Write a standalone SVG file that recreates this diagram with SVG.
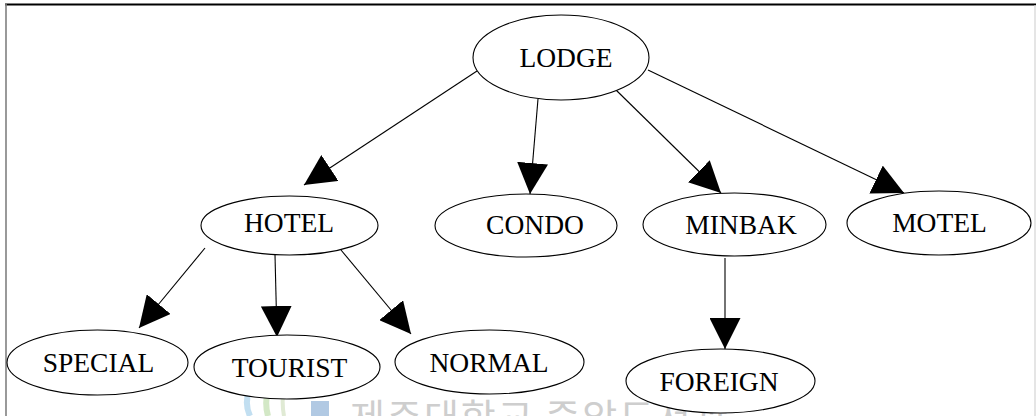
<svg xmlns="http://www.w3.org/2000/svg" width="1036" height="416" viewBox="0 0 1036 416">
<style>
.node ellipse{fill:#fff;stroke:#000;stroke-width:1.1}
.node text{font-family:"Liberation Serif","Times New Roman",serif;font-size:27.5px;fill:#000;text-anchor:middle}
.edge{stroke:#000;stroke-width:1.1;fill:none;marker-end:url(#ah)}
.wm{font-family:"Noto Sans CJK KR","Noto Sans CJK SC",sans-serif;font-size:38px;fill:#c9c9c9}
</style>
<defs>
<marker id="ah" viewBox="0 0 10 10" refX="10" refY="5" markerUnits="userSpaceOnUse" markerWidth="31" markerHeight="31" orient="auto">
<path d="M0,0 L10,5 L0,10 z" fill="#000"/>
</marker>
</defs>
<rect x="0" y="0" width="1036" height="416" fill="#fff"/>
<g id="frame">
<line x1="5" y1="4.5" x2="1036" y2="4.5" stroke="#000" stroke-width="2"/>
<line x1="6" y1="4" x2="6" y2="416" stroke="#808080" stroke-width="1.6"/>
<line x1="1035" y1="5" x2="1035" y2="416" stroke="#d4d4d4" stroke-width="1.2"/>
</g>
<g id="watermark" opacity="0.9">
<path d="M262,372 Q240,395 250,416" stroke="#bcdcf0" stroke-width="6" fill="none"/>
<path d="M276,370 Q262,395 268,416" stroke="#cfe6c0" stroke-width="6" fill="none"/>
<path d="M288,372 Q280,395 284,416" stroke="#dde8d0" stroke-width="4" fill="none"/>
<rect x="311" y="401" width="18" height="15" fill="#a9c4e0"/>
<text class="wm" x="350" y="431" textLength="378" lengthAdjust="spacing">제주대학교 중앙도서관</text>
</g>
<g id="connectors">
<line class="edge" x1="477" y1="71" x2="304" y2="185"/>
<line class="edge" x1="538" y1="99" x2="530" y2="194"/>
<line class="edge" x1="616" y1="90" x2="721" y2="193"/>
<line class="edge" x1="648" y1="70" x2="904" y2="193"/>
<line class="edge" x1="205" y1="248" x2="139" y2="328"/>
<line class="edge" x1="275" y1="255" x2="277" y2="337"/>
<line class="edge" x1="341" y1="250" x2="411" y2="334"/>
<line class="edge" x1="725" y1="258" x2="725" y2="349"/>
</g>
<g id="LODGE" class="node"><ellipse cx="561" cy="57.5" rx="88" ry="42.5"/><text x="566" y="67">LODGE</text></g>
<g id="HOTEL" class="node"><ellipse cx="289.5" cy="225.5" rx="88.5" ry="29.5"/><text x="289" y="232">HOTEL</text></g>
<g id="CONDO" class="node"><ellipse cx="526" cy="225.5" rx="91" ry="31.5"/><text x="535" y="234">CONDO</text></g>
<g id="MINBAK" class="node"><ellipse cx="734.5" cy="224.5" rx="91.5" ry="31.5"/><text x="741" y="234">MINBAK</text></g>
<g id="MOTEL" class="node"><ellipse cx="939" cy="223" rx="92" ry="32"/><text x="939.5" y="232">MOTEL</text></g>
<g id="SPECIAL" class="node"><ellipse cx="97.5" cy="362.5" rx="90.5" ry="32.5"/><text x="98.5" y="372">SPECIAL</text></g>
<g id="TOURIST" class="node"><ellipse cx="287" cy="367" rx="93" ry="32"/><text x="289.5" y="377">TOURIST</text></g>
<g id="NORMAL" class="node"><ellipse cx="489.5" cy="362" rx="94.5" ry="32"/><text x="489" y="372">NORMAL</text></g>
<g id="FOREIGN" class="node"><ellipse cx="720.5" cy="381" rx="94.5" ry="32"/><text x="719" y="391">FOREIGN</text></g>
</svg>
